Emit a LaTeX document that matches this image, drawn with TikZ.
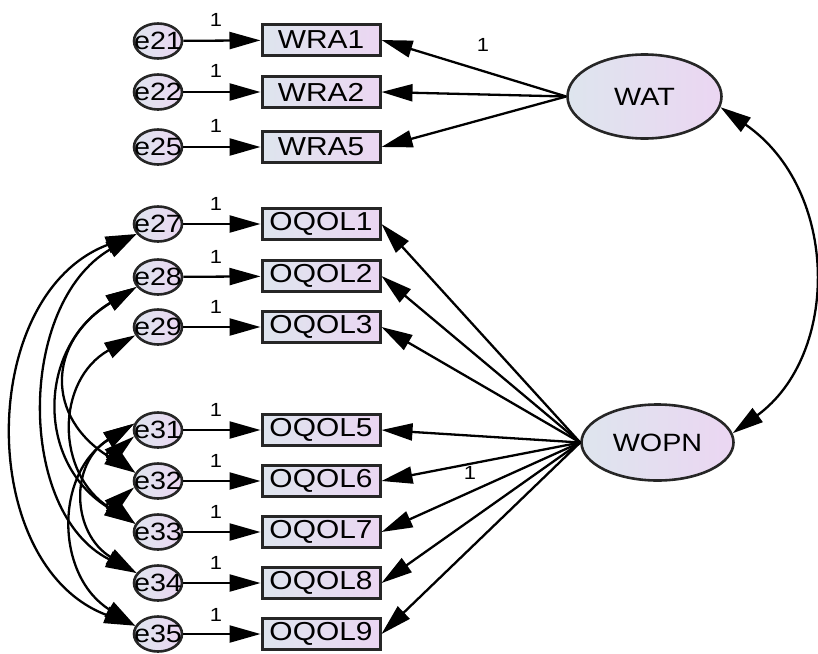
\documentclass[tikz,border=0pt]{standalone}
\usepackage{fontspec}
\setmainfont{Liberation Sans}[FakeStretch=1.15]
\usetikzlibrary{arrows.meta,shapes.geometric}
\definecolor{fillL}{HTML}{DEE5EE}
\definecolor{fillR}{HTML}{EBD6F2}
\newcommand{\errtxt}[1]{\makebox[0pt]{#1}}
\tikzset{
  obsbox/.style={draw=black!85,line width=3pt,left color=fillL,right color=fillR,
    minimum width=118pt,minimum height=31pt,inner sep=0pt,font=\fontsize{26}{26}\selectfont},
  errnode/.style={ellipse,draw=black!85,line width=2.6pt,left color=fillL,right color=fillR,
    minimum width=48pt,minimum height=35pt,inner sep=0pt,font=\fontsize{25}{25}\selectfont},
  latnode/.style={ellipse,draw=black!85,line width=2.6pt,left color=fillL,right color=fillR,
    inner sep=0pt,font=\fontsize{25}{25}\selectfont},
  onelbl/.style={inner sep=0pt,font=\fontsize{19}{19}\selectfont},
  loading/.style={line width=2.3pt,-{Triangle[length=31pt,width=17pt]}},
  cov/.style={line width=2.3pt,{Triangle[length=31pt,width=17pt]}-{Triangle[length=31pt,width=17pt]}}
}
\begin{document}
\begin{tikzpicture}[x=1pt,y=1pt,yscale=-1,xscale=1]
\useasboundingbox (0,0) rectangle (818,653);

%Shape: Ellipse (latent)
\node[latnode,minimum width=154pt,minimum height=84pt] (WAT) at (644.5,96.5) {WAT};
\node[latnode,minimum width=152pt,minimum height=76pt] (WOPN) at (657.5,442.5) {WOPN};

%Shape: Rectangle (observed)
\node[obsbox] (WRA1) at (321,40) {WRA1};
\node[obsbox] (WRA2) at (321,92) {WRA2};
\node[obsbox] (WRA5) at (321,147) {WRA5};
\node[obsbox] (OQOL1) at (321,224) {OQOL1};
\node[obsbox] (OQOL2) at (321,276) {OQOL2};
\node[obsbox] (OQOL3) at (321,327) {OQOL3};
\node[obsbox] (OQOL5) at (321,430) {OQOL5};
\node[obsbox] (OQOL6) at (321,481) {OQOL6};
\node[obsbox] (OQOL7) at (321,532) {OQOL7};
\node[obsbox] (OQOL8) at (321,583) {OQOL8};
\node[obsbox] (OQOL9) at (321,634) {OQOL9};

%Shape: Ellipse (errors)
\node[errnode] (e21) at (158,41) {\errtxt{e21}};
\node[errnode] (e22) at (158,92) {\errtxt{e22}};
\node[errnode] (e25) at (158,147) {\errtxt{e25}};
\node[errnode] (e27) at (158,224) {\errtxt{e27}};
\node[errnode] (e28) at (158,277) {\errtxt{e28}};
\node[errnode] (e29) at (158,327) {\errtxt{e29}};
\node[errnode] (e31) at (158,430) {\errtxt{e31}};
\node[errnode] (e32) at (158,481) {\errtxt{e32}};
\node[errnode] (e33) at (158,532) {\errtxt{e33}};
\node[errnode] (e34) at (158,583) {\errtxt{e34}};
\node[errnode] (e35) at (158,634) {\errtxt{e35}};

%Straight Lines (errors to indicators)
\draw[loading] (e21) -- (WRA1);
\draw[loading] (e22) -- (WRA2);
\draw[loading] (e25) -- (WRA5);
\draw[loading] (e27) -- (OQOL1);
\draw[loading] (e28) -- (OQOL2);
\draw[loading] (e29) -- (OQOL3);
\draw[loading] (e31) -- (OQOL5);
\draw[loading] (e32) -- (OQOL6);
\draw[loading] (e33) -- (OQOL7);
\draw[loading] (e34) -- (OQOL8);
\draw[loading] (e35) -- (OQOL9);

%Straight Lines (factor loadings)
\draw[loading] (WAT.west) -- (WRA1.east);
\draw[loading] (WAT.west) -- (WRA2.east);
\draw[loading] (WAT.west) -- (WRA5.east);
\draw[loading] (WOPN.west) -- (OQOL1.east);
\draw[loading] (WOPN.west) -- (OQOL2.east);
\draw[loading] (WOPN.west) -- (OQOL3.east);
\draw[loading] (WOPN.west) -- (OQOL5.east);
\draw[loading] (WOPN.west) -- (OQOL6.east);
\draw[loading] (WOPN.west) -- (OQOL7.east);
\draw[loading] (WOPN.west) -- (OQOL8.east);
\draw[loading] (WOPN.west) -- (OQOL9.east);

%Curve Lines (factor covariance)
\draw[cov] (WAT.-8) .. controls (840,190) and (840,355) .. (WOPN.7);

%Curve Lines (error covariances)
\draw[cov] (e27.205) .. controls +(-160,60) and +(-160,-60) .. (e35.160);
\draw[cov] (e27.205) .. controls +(-120,70) and +(-120,-60) .. (e34.155);
\draw[cov] (e28.205) .. controls +(-100,60) and +(-100,-60) .. (e33.160);
\draw[cov] (e28.205) .. controls +(-90,55) and +(-90,-55) .. (e32.160);
\draw[cov] (e29.200) .. controls +(-80,45) and +(-80,-50) .. (e33.160);
\draw[cov] (e31.165) .. controls +(-80,50) and +(-80,-50) .. (e35.160);
\draw[cov] (e31.165) .. controls +(-65,40) and +(-65,-40) .. (e34.155);
\draw[cov] (e31.195) .. controls +(-30,25) and +(-30,-25) .. (e32.160);
\draw[cov] (e32.195) .. controls +(-30,25) and +(-30,-25) .. (e33.160);

% Text Node
\node[onelbl] (l21) at (216,20) {1};
\node[onelbl] (l22) at (216,71) {1};
\node[onelbl] (l25) at (216,126) {1};
\node[onelbl] (l27) at (216,204) {1};
\node[onelbl] (l28) at (216,257) {1};
\node[onelbl] (l29) at (216,307) {1};
\node[onelbl] (l31) at (216,410) {1};
\node[onelbl] (l32) at (216,461) {1};
\node[onelbl] (l33) at (216,512) {1};
\node[onelbl] (l34) at (216,563) {1};
\node[onelbl] (l35) at (216,615) {1};
\node[onelbl] (lWAT) at (483,45) {1};
\node[onelbl] (lWOPN) at (470,473) {1};

\end{tikzpicture}
\end{document}
